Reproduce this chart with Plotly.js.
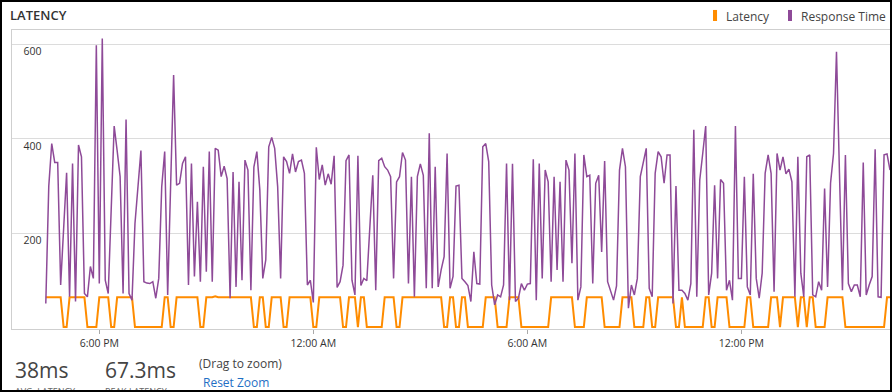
<!DOCTYPE html>
<html><head><meta charset="utf-8">
<script src="https://cdn.plot.ly/plotly-3.0.1.min.js"></script>
<style>
html,body{margin:0;padding:0;background:#fff;}
#wrap{position:relative;width:892px;height:392px;overflow:hidden;}
#chart{width:892px;height:392px;}
#frame{position:absolute;left:0;top:0;width:892px;height:392px;box-sizing:border-box;border:2px solid #000;pointer-events:none;}
</style></head><body>
<div id="wrap"><div id="chart"></div><div id="frame"></div></div>
<script>
// Sampling grid: one reading every 5 minutes, starting 16:30
const startTime = Date.UTC(2016, 2, 14, 16, 30);
const stepMinutes = 5;

const responseTime = [
52,300,390,350,350,91,210,328,66,348,
56,387,362,73,66,130,105,598,94,612,
101,73,250,427,375,320,73,441,73,59,
221,300,375,98,95,94,98,63,105,299,
373,70,300,535,302,306,348,362,91,348,
109,267,98,341,119,373,98,380,376,320,
342,316,63,330,87,309,101,355,334,80,
340,373,292,105,144,383,403,380,299,105,
362,352,327,368,330,352,355,327,91,101,
54,382,314,345,302,326,304,364,86,98,
133,354,366,101,70,364,90,105,100,200,
323,80,354,359,341,334,320,105,309,320,
371,355,94,320,66,320,347,323,84,412,
84,341,87,123,151,369,84,109,300,302,
105,98,90,56,161,94,93,383,390,352,
91,49,70,66,91,348,59,347,56,63,
94,80,93,94,357,59,348,105,334,309,
98,320,123,309,98,355,334,137,369,59,
87,366,320,323,94,306,323,161,353,98,
77,59,89,334,380,341,42,91,70,105,
320,348,380,84,66,327,373,362,306,366,
366,52,300,80,80,73,59,94,419,66,
313,369,427,70,116,302,105,314,306,80,
101,59,427,105,105,320,87,70,326,105,
63,116,327,366,327,77,369,334,362,326,
336,309,66,362,116,66,362,366,70,66,
98,80,295,87,306,369,584,327,80,366,
94,77,91,91,66,350,70,91,109,378,
66,65,366,368,334
];

const latency = [
65,65,65,65,65,65,2,2,65,65,
65,65,65,65,2,2,2,2,65,65,
65,65,2,2,65,65,65,65,65,65,
2,2,2,2,2,2,2,2,2,2,
65,65,2,2,65,65,65,65,65,65,
65,65,2,2,65,65,65,67.3,65,65,
65,65,65,65,65,65,65,65,65,65,
2,2,65,65,2,2,65,65,65,65,
2,2,65,65,65,65,65,65,65,65,
2,2,65,65,65,65,65,65,65,65,
2,2,65,65,65,2,65,65,2,2,
2,2,2,2,65,65,65,65,2,2,
65,65,65,65,65,65,65,65,65,65,
65,65,65,65,2,2,65,65,2,2,
65,65,2,2,2,2,2,2,65,65,
65,65,2,2,2,2,65,65,65,65,
2,2,2,2,2,2,2,2,2,2,
65,65,65,65,65,65,65,65,2,2,
2,2,65,65,65,65,65,65,2,2,
2,2,2,2,65,65,65,65,2,2,
2,2,65,65,2,2,65,65,65,65,
65,65,2,2,65,2,2,2,2,2,
2,2,65,65,2,2,65,65,65,65,
2,2,2,2,2,2,65,65,2,2,
2,2,2,2,65,65,65,2,65,65,
65,65,65,2,65,65,2,65,65,2,
2,2,2,65,65,65,65,65,65,2,
2,2,2,2,2,2,2,2,2,2,
2,2,2,65,65
];

const seriesNames = ['Latency', 'Response Time'];
const seriesColors = ['#ff8c00', '#8e4a98'];
const yTickValues = [200, 400, 600];
const headerTitle = 'LATENCY';
const avgLatencyText = '38ms';
const peakLatencyText = '67.3ms';

const times = responseTime.map((_, i) => startTime + i * stepMinutes * 60000);
const MIN = 60000;
const xRange = [startTime - 56.85 * MIN, times[times.length - 1]];

const F = 'Open Sans, Segoe UI, sans-serif';

const traces = [
  {x: times, y: latency, type: 'scatter', mode: 'lines', name: seriesNames[0],
   line: {color: seriesColors[0], width: 2}, hoverinfo: 'skip'},
  {x: times, y: responseTime, type: 'scatter', mode: 'lines', name: seriesNames[1],
   line: {color: seriesColors[1], width: 1.5}, hoverinfo: 'skip'}
];

const layout = {
  width: 892, height: 392,
  margin: {l: 12, r: 2, t: 30, b: 63},
  paper_bgcolor: '#fff', plot_bgcolor: '#fff',
  showlegend: false,
  font: {family: F, color: '#333'},
  xaxis: {
    type: 'date', range: xRange,
    tick0: Date.UTC(2016, 2, 14, 0, 0), dtick: 6 * 3600000,
    tickformat: '%-I:%M %p',
    showgrid: false, zeroline: false,
    showline: true, linecolor: '#cfcfcf', linewidth: 1, mirror: true,
    ticks: 'outside', ticklen: 4, tickcolor: '#aaa',
    tickfont: {family: F, size: 10.5, color: '#333'}
  },
  yaxis: {
    range: [-2, 630], tickvals: yTickValues,
    showgrid: true, gridcolor: '#dcdcdc', gridwidth: 1, zeroline: false,
    showline: true, linecolor: '#cfcfcf', linewidth: 1, mirror: true,
    ticks: '', ticklabelposition: 'inside bottom', ticklabelstandoff: 10,
    tickfont: {family: F, size: 10.5, color: '#333'}
  },
  shapes: [
    {type: 'rect', xref: 'paper', yref: 'paper', x0: 0.7984, x1: 0.8030, y0: 1.030, y1: 1.067,
     fillcolor: seriesColors[0], line: {width: 0}},
    {type: 'rect', xref: 'paper', yref: 'paper', x0: 0.8838, x1: 0.8884, y0: 1.030, y1: 1.067,
     fillcolor: seriesColors[1], line: {width: 0}}
  ],
  annotations: [
    {text: headerTitle, xref: 'paper', yref: 'paper', x: -0.0046, y: 1.050, xanchor: 'left', yanchor: 'middle',
     showarrow: false, font: {family: F, size: 13, color: '#333', weight: 600}},
    {text: seriesNames[0], xref: 'paper', yref: 'paper', x: 0.8104, y: 1.0468, xanchor: 'left', yanchor: 'middle',
     showarrow: false, font: {family: F, size: 12, color: '#444'}},
    {text: seriesNames[1], xref: 'paper', yref: 'paper', x: 0.8964, y: 1.0468, xanchor: 'left', yanchor: 'middle',
     showarrow: false, font: {family: F, size: 12, color: '#444'}},
    {text: avgLatencyText, xref: 'paper', yref: 'paper', x: 0.0011, y: -0.137, xanchor: 'left', yanchor: 'middle',
     showarrow: false, font: {family: F, size: 21, color: '#444'}},
    {text: peakLatencyText, xref: 'paper', yref: 'paper', x: 0.1036, y: -0.137, xanchor: 'left', yanchor: 'middle',
     showarrow: false, font: {family: F, size: 21, color: '#444'}},
    {text: 'AVG. LATENCY', xref: 'paper', yref: 'paper', x: 0.0011, y: -0.209, xanchor: 'left', yanchor: 'middle',
     showarrow: false, font: {family: F, size: 9, color: '#666'}},
    {text: 'PEAK LATENCY', xref: 'paper', yref: 'paper', x: 0.1036, y: -0.209, xanchor: 'left', yanchor: 'middle',
     showarrow: false, font: {family: F, size: 9, color: '#666'}},
    {text: '(Drag to zoom)', xref: 'paper', yref: 'paper', x: 0.2107, y: -0.117, xanchor: 'left', yanchor: 'middle',
     showarrow: false, font: {family: F, size: 12, color: '#444'}},
    {text: 'Reset Zoom', xref: 'paper', yref: 'paper', x: 0.2158, y: -0.179, xanchor: 'left', yanchor: 'middle',
     showarrow: false, font: {family: F, size: 12, color: '#1f6fc5'}}
  ]
};

Plotly.newPlot('chart', traces, layout, {staticPlot: true, displayModeBar: false});
</script>
</body></html>
